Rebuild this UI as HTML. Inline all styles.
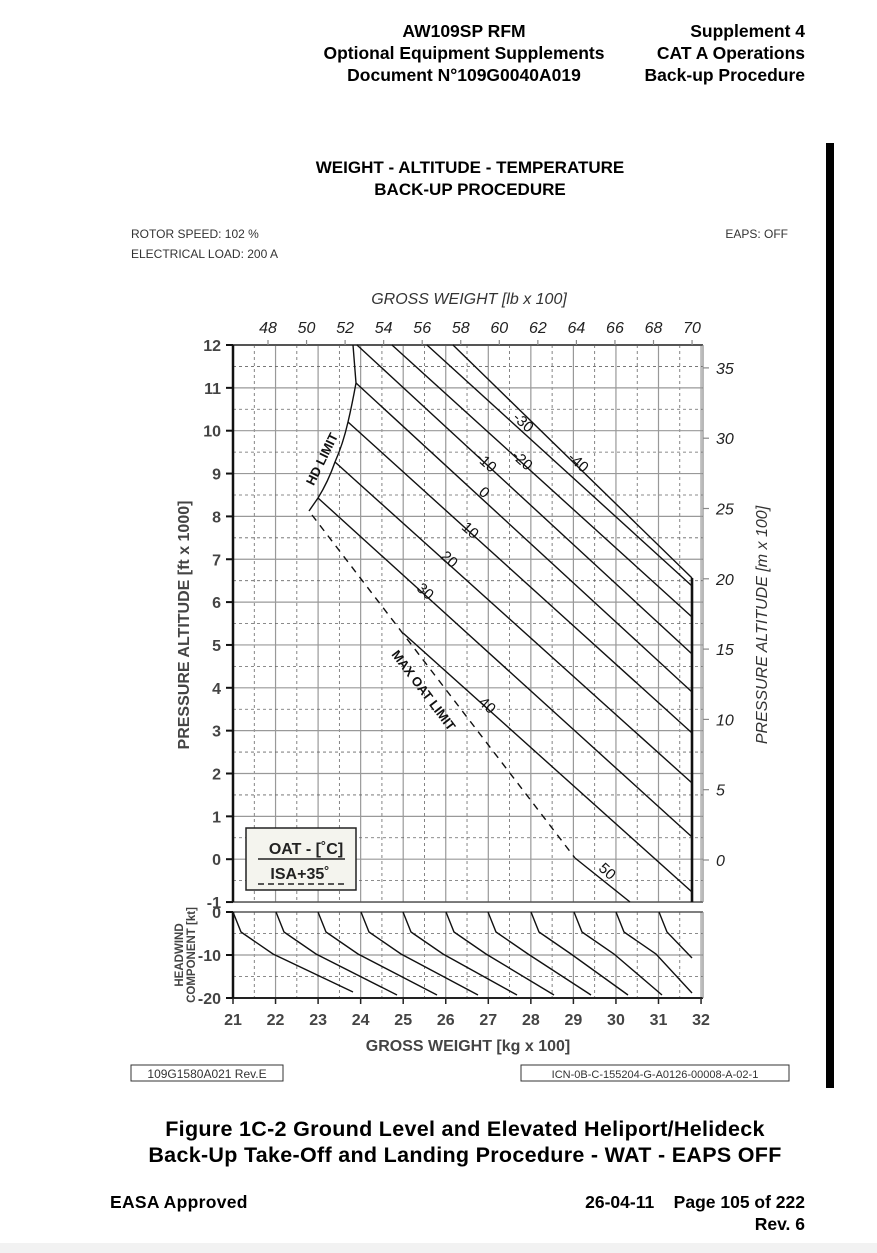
<!DOCTYPE html>
<html><head><meta charset="utf-8"><style>
html,body{margin:0;padding:0;background:#fff}
svg{display:block}
text{font-family:"Liberation Sans",sans-serif}
</style></head><body>
<svg id="s" width="877" height="1253" viewBox="0 0 877 1253" xmlns="http://www.w3.org/2000/svg">
<rect width="877" height="1253" fill="#fff"/>
<rect x="0" y="1243" width="877" height="10" fill="#f2f2f2"/>
<rect x="826" y="143" width="8" height="945" fill="#000"/>
<g font-weight="bold" font-size="17.5" fill="#000">
<text x="464" y="37" text-anchor="middle">AW109SP RFM</text>
<text x="464" y="59" text-anchor="middle">Optional Equipment Supplements</text>
<text x="464" y="81" text-anchor="middle">Document N°109G0040A019</text>
<text x="805" y="37" text-anchor="end">Supplement 4</text>
<text x="805" y="59" text-anchor="end">CAT A Operations</text>
<text x="805" y="81" text-anchor="end">Back-up Procedure</text>
<text x="470" y="173" text-anchor="middle" font-size="17">WEIGHT - ALTITUDE - TEMPERATURE</text>
<text x="470" y="195" text-anchor="middle" font-size="17">BACK-UP PROCEDURE</text>
<text x="465" y="1136" text-anchor="middle" font-size="21.5" letter-spacing="0.3">Figure  1C-2  Ground Level and Elevated Heliport/Helideck</text>
<text x="465" y="1162" text-anchor="middle" font-size="21.5" letter-spacing="0.3">Back-Up Take-Off and Landing Procedure - WAT - EAPS OFF</text>
<text x="110" y="1208" font-size="17.5" letter-spacing="0.3">EASA Approved</text>
<text x="805" y="1208" text-anchor="end" font-size="17.5" xml:space="preserve">26-04-11    Page 105 of 222</text>
<text x="805" y="1230" text-anchor="end" font-size="17.5">Rev. 6</text>
</g>
<g font-size="12" fill="#333">
<text x="131" y="238">ROTOR SPEED: 102 %</text>
<text x="131" y="258">ELECTRICAL LOAD: 200 A</text>
<text x="788" y="238" text-anchor="end">EAPS: OFF</text>
</g>
<text x="469" y="304" text-anchor="middle" font-size="16" font-style="italic" fill="#333">GROSS WEIGHT [lb x 100]</text>
<text x="468" y="1051" text-anchor="middle" font-size="16" font-weight="bold" fill="#444">GROSS WEIGHT [kg x 100]</text>
<text transform="translate(189,625) rotate(-90)" text-anchor="middle" font-size="16" font-weight="bold" fill="#444">PRESSURE ALTITUDE [ft x 1000]</text>
<text transform="translate(767,625) rotate(-90)" text-anchor="middle" font-size="16" font-style="italic" fill="#333">PRESSURE ALTITUDE [m x 100]</text>
<text transform="translate(183,955) rotate(-90)" text-anchor="middle" font-size="11.5" font-weight="bold" fill="#444">HEADWIND</text>
<text transform="translate(195,955) rotate(-90)" text-anchor="middle" font-size="11.5" font-weight="bold" fill="#444">COMPONENT [kt]</text>
<g id="grid"></g>
<g id="curves" fill="none" stroke="#111" stroke-width="1.4"></g>
<g id="labels"></g>
<rect x="131" y="1065" width="152" height="16" fill="#fff" stroke="#333"/>
<text x="207" y="1078" text-anchor="middle" font-size="12" fill="#333">109G1580A021 Rev.E</text>
<rect x="521" y="1065" width="268" height="16" fill="#fff" stroke="#333"/>
<text x="655" y="1078" text-anchor="middle" font-size="11" fill="#333">ICN-0B-C-155204-G-A0126-00008-A-02-1</text>
</svg>
<script>
var NS="http://www.w3.org/2000/svg";
function el(p,t,a,txt){var e=document.createElementNS(NS,t);for(var k in a)e.setAttribute(k,a[k]);if(txt!==undefined)e.textContent=txt;p.appendChild(e);return e;}
var g=document.getElementById('grid'),c=document.getElementById('curves'),L=document.getElementById('labels');
var X0=233,KX=42.55,Y12=345,FY=42.85,XR=703;
function fy(v){return Y12+(12-v)*FY;}
var YB=fy(-1),HT=912,HB=998;
for(var k=0;k<=22;k++){var x=X0+k*KX/2;if(x>XR)break;
 var solid=(k%2==0);
 [[Y12,YB],[HT,HB]].forEach(function(r){
 el(g,'line',{x1:x,x2:x,y1:r[0],y2:r[1],stroke:solid?'#999':'#666','stroke-width':solid?1.2:0.8,'stroke-dasharray':solid?'':'3,3'});});
}
for(var v=-1;v<=12;v+=0.5){var y=fy(v);var solid=(v%1==0);
 el(g,'line',{x1:X0,x2:XR,y1:y,y2:y,stroke:solid?'#999':'#666','stroke-width':solid?1.2:0.8,'stroke-dasharray':solid?'':'3,3'});}
[-5,-10,-15].forEach(function(h){var y=HT+(-h)*(HB-HT)/20;var solid=h==-10;
 el(g,'line',{x1:X0,x2:XR,y1:y,y2:y,stroke:solid?'#999':'#666','stroke-width':solid?1.2:0.8,'stroke-dasharray':solid?'':'3,3'});});
el(g,'line',{x1:X0,x2:XR,y1:Y12,y2:Y12,stroke:'#555','stroke-width':2});
el(g,'line',{x1:X0,x2:XR,y1:YB,y2:YB,stroke:'#555','stroke-width':1.5});
el(g,'line',{x1:X0,x2:XR,y1:HT,y2:HT,stroke:'#555','stroke-width':1.5});
el(g,'line',{x1:X0,x2:XR,y1:HB,y2:HB,stroke:'#222','stroke-width':2});
el(g,'line',{x1:XR,x2:XR,y1:Y12,y2:YB,stroke:'#888','stroke-width':1.2});
el(g,'line',{x1:XR,x2:XR,y1:HT,y2:HB,stroke:'#888','stroke-width':1.2});
el(g,'line',{x1:X0,x2:X0,y1:Y12,y2:YB,stroke:'#111','stroke-width':2.5});
el(g,'line',{x1:X0,x2:X0,y1:HT,y2:HB,stroke:'#111','stroke-width':2.5});
for(var v=-1;v<=12;v++){var y=fy(v);el(g,'line',{x1:X0-7,x2:X0,y1:y,y2:y,stroke:'#111','stroke-width':2});
 el(L,'text',{x:221,y:y+6,'text-anchor':'end','font-size':16,'font-weight':'bold',fill:'#444'},String(v));}
[[0,HT],[-10,955],[-20,HB]].forEach(function(a){el(g,'line',{x1:X0-7,x2:X0,y1:a[1],y2:a[1],stroke:'#111','stroke-width':2});
 el(L,'text',{x:221,y:a[1]+6,'text-anchor':'end','font-size':16,'font-weight':'bold',fill:'#444'},String(a[0]));});
for(var k=21;k<=32;k++){var x=X0+(k-21)*KX;el(g,'line',{x1:x,x2:x,y1:HB,y2:HB+6,stroke:'#222','stroke-width':1.5});
 el(L,'text',{x:x,y:1025,'text-anchor':'middle','font-size':16,'font-weight':'bold',fill:'#444'},String(k));}
for(var i=0;i<12;i++){var lb=48+2*i;var x=268+i*38.55;el(g,'line',{x1:x,x2:x,y1:Y12-5,y2:Y12,stroke:'#888','stroke-width':1.2});
 el(L,'text',{x:x,y:333,'text-anchor':'middle','font-size':16,'font-style':'italic',fill:'#222'},String(lb));}
for(var m=0;m<=35;m+=5){var y=860-m*14.06;el(g,'line',{x1:XR,x2:XR+6,y1:y,y2:y,stroke:'#888','stroke-width':1.2});
 el(L,'text',{x:716,y:y+6,'font-size':16,'font-style':'italic',fill:'#222'},String(m));}
var lines=[[453,345,692,578],[427,345,692,586],[392,345,692,617],[357,345,692,654],[356,383,692,692],[348,422,692,733],[335,462,692,783],[318,498,692,837],[403,633,692,892],[575,858,630,902]];
lines.forEach(function(a){el(c,'line',{x1:a[0],y1:a[1],x2:a[2],y2:a[3]});});
el(c,'line',{x1:692,y1:578,x2:692,y2:902,'stroke-width':2.6});
el(c,'path',{d:'M353,345 L356,383 Q352,405 348,422 Q343,444 335,462 Q328,482 318,498 L309,511'});
el(c,'line',{x1:312,y1:515,x2:575,y2:858,'stroke-dasharray':'7,6'});
var starts=[233,276,318,361,403,446,488,531,574,616,659];
var ends=[[353,992],[397,995],[437,995],[478,995],[517,995],[554,995],[591,995],[628,995],[662,995],[692,993],[692,958]];
starts.forEach(function(x0,i){var e=ends[i];var mx=x0+40,my=954;
 var d='M'+x0+',912 L'+(x0+8)+',932 L'+mx+','+my;
 if(e[0]<=mx){d='M'+x0+',912 L'+(x0+8)+',932 L'+e[0]+','+e[1];} else d+=' L'+e[0]+','+e[1];
 el(c,'path',{d:d});});
function rl(t,x,y,a){var e=el(L,'text',{transform:'translate('+x+','+y+') rotate('+a+')','text-anchor':'middle','font-size':15,fill:'#111'},t);}
rl('-30',520,426,42);rl('-40',575,466,42);rl('-20',519,464,42);rl('-10',483,466,42);rl('0',481,496,42);
rl('10',467,534,42);rl('20',446,563,42);rl('30',422,595,42);rl('40',484,709,42);rl('50',604,875,42);
el(L,'text',{transform:'translate(326,461) rotate(-64)','text-anchor':'middle','font-size':13,'font-weight':'bold',fill:'#111'},'HD LIMIT');
el(L,'text',{transform:'translate(420,693) rotate(53)','text-anchor':'middle','font-size':13,'font-weight':'bold',fill:'#111'},'MAX OAT LIMIT');
el(L,'rect',{x:246,y:828,width:110,height:62,fill:'#f4f4ee',stroke:'#222','stroke-width':1.5});
el(L,'text',{x:306,y:854,'text-anchor':'middle','font-size':16,'font-weight':'bold',fill:'#222'},'OAT - [˚C]');
el(L,'line',{x1:258,x2:345,y1:859,y2:859,stroke:'#222','stroke-width':1.5});
el(L,'text',{x:300,y:879,'text-anchor':'middle','font-size':16,'font-weight':'bold',fill:'#222'},'ISA+35˚');
el(L,'line',{x1:258,x2:345,y1:884,y2:884,stroke:'#222','stroke-width':1.5,'stroke-dasharray':'6,4'});
</script>
</body></html>
